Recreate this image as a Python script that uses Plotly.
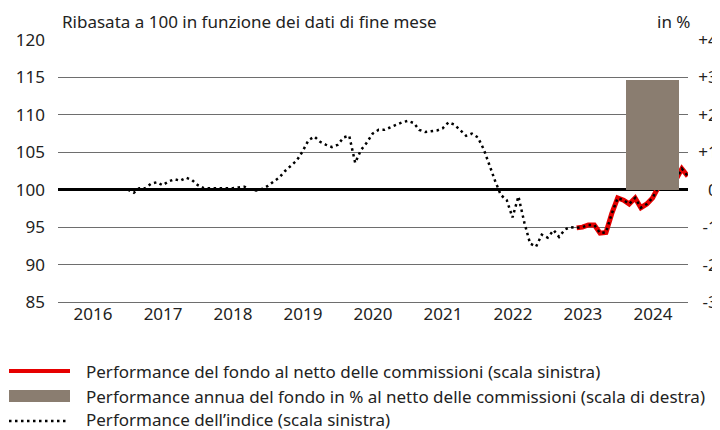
import pandas as pd
import plotly.graph_objects as go

# ---------------- data ----------------
index_dates = pd.date_range("2016-12-31", "2024-12-31", freq="ME").strftime("%Y-%m-%d").tolist()
index_values = [
    100.0,
    99.6, 100.2, 100.2, 100.8, 101.0, 100.6, 101.1, 101.4, 101.2, 101.6, 101.3, 100.6,   # 2017
    100.2, 100.2, 100.2, 100.1, 100.1, 100.2, 100.3, 100.4, 100.0, 99.9, 100.1, 100.5,   # 2018
    101.1, 101.6, 102.5, 103.2, 103.9, 105.1, 106.6, 107.1, 106.4, 106.0, 105.7, 106.0,  # 2019
    107.0, 107.2, 103.6, 105.3, 106.3, 107.5, 108.0, 108.0, 108.3, 108.7, 109.0, 109.2,  # 2020
    108.9, 108.0, 107.7, 107.8, 107.9, 108.2, 109.0, 108.7, 108.0, 107.2, 107.5, 107.0,  # 2021
    105.4, 103.3, 101.2, 99.3, 98.6, 96.3, 99.1, 95.6, 92.8, 92.4, 94.0, 93.6,           # 2022
    94.6, 93.7, 94.7, 95.0, 94.9, 95.0, 95.3, 95.3, 94.2, 94.3, 96.8, 98.9,              # 2023
    98.6, 98.1, 98.9, 97.6, 98.1, 98.9, 100.4, 101.1, 102.1, 101.4, 102.8, 101.8,        # 2024
]

fund_dates = pd.date_range("2023-05-31", "2024-12-31", freq="ME").strftime("%Y-%m-%d").tolist()
fund_values = [94.9, 95.0, 95.3, 95.3, 94.2, 94.3, 96.8, 98.9,
               98.6, 98.1, 98.9, 97.6, 98.1, 98.9, 100.4, 101.1, 102.1, 101.4, 102.8, 101.8]

annual_years = ["2024-01-01"]
annual_perf = [2.93]

left_ticks = [85, 90, 95, 100, 105, 110, 115, 120]
right_ticks = [-3, -2, -1, 0, 1, 2, 3, 4]
right_labels = ["-3", "-2", "-1", "0", "+1", "+2", "+3", "+4"]

title_text = "Ribasata a 100 in funzione dei dati di fine mese"
unit_text = "in %"
legend_texts = [
    "Performance del fondo al netto delle commissioni (scala sinistra)",
    "Performance annua del fondo in % al netto delle commissioni (scala di destra)",
    "Performance dell\u2019indice (scala sinistra)",
]

RED = "#e60000"
BROWN = "#8a7d70"
TXT = "#222222"
GRID = "#6e6e6e"
FS = 17

# ---------------- geometry (screen pixels; page body has an 8px offset) ----------------
OFF = 8
W, H = 720 - OFF, 430 - OFF
PL, PR, PT, PB = 58, 688, 40, 302          # plot box in screen pixels
ML, MT = PL - OFF, PT - OFF
MB = H - (PB - OFF)
MR = 0
PW = W - ML - MR
PH = H - MT - MB


def px(x):
    return (x - PL) / PW


def py(y):
    return (PB - y) / PH


fig = go.Figure()

fig.add_trace(go.Bar(
    x=annual_years, y=annual_perf, yaxis="y2",
    xperiod="M12", xperiod0="2016-01-01", xperiodalignment="middle",
    width=[276 * 86400000], marker=dict(color=BROWN, line=dict(width=0)),
    name=legend_texts[1], hoverinfo="skip",
))

fig.add_trace(go.Scatter(
    x=fund_dates, y=fund_values, mode="lines",
    line=dict(color=RED, width=5), name=legend_texts[0],
))

fig.add_trace(go.Scatter(
    x=index_dates, y=index_values, mode="lines",
    line=dict(color="black", width=2.5, dash="2.5px,3.5px"), name=legend_texts[2],
))

# legend (custom)
fig.add_shape(type="line", xref="paper", yref="paper", x0=px(9), x1=px(70), y0=py(371), y1=py(371),
              line=dict(color=RED, width=4))
fig.add_shape(type="rect", xref="paper", yref="paper", x0=px(9), x1=px(70), y0=py(390), y1=py(402),
              line=dict(width=0), fillcolor=BROWN)
fig.add_shape(type="line", xref="paper", yref="paper", x0=px(9), x1=px(68), y0=py(421), y1=py(421),
              line=dict(color="black", width=2.5, dash="2.5px,3.5px"))
for t, yy in zip(legend_texts, [371, 396, 419]):
    fig.add_annotation(text=t, xref="paper", yref="paper", x=px(84), y=py(yy),
                       xanchor="left", yanchor="middle", showarrow=False,
                       font=dict(size=FS, color=TXT))

fig.add_annotation(text=title_text, xref="paper", yref="paper", x=px(60), y=py(21),
                   xanchor="left", yanchor="middle", showarrow=False, font=dict(size=FS, color=TXT))
fig.add_annotation(text=unit_text, xref="paper", yref="paper", x=px(692), y=py(21),
                   xanchor="right", yanchor="middle", showarrow=False, font=dict(size=FS, color=TXT))

fig.update_layout(
    width=W, height=H,
    margin=dict(l=ML, r=MR, t=MT, b=MB, autoexpand=False),
    paper_bgcolor="white", plot_bgcolor="white",
    font=dict(family="Noto Sans", size=FS, color=TXT),
    showlegend=False,
    bargap=0,
    xaxis=dict(
        type="date", domain=[0, (PR - PL) / PW], range=["2016-01-01", "2025-01-01"],
        dtick="M12", tick0="2016-01-01", ticklabelmode="period", tickformat="%Y",
        showgrid=False, zeroline=False, showline=True, linecolor=GRID, linewidth=1,
        ticks="", tickfont=dict(size=FS, color=TXT), ticklabelstandoff=-3, automargin=False,
    ),
    yaxis=dict(
        range=[85, 120], tickvals=left_ticks, showgrid=True, gridcolor=GRID, gridwidth=1,
        zeroline=False, showline=False, ticks="", tickfont=dict(size=FS, color=TXT),
        ticklabelstandoff=12, automargin=False,
    ),
    yaxis2=dict(
        overlaying="y", anchor="free", position=(717 - PL) / PW + 0.004, side="left",
        range=[-3, 4], tickvals=right_ticks, ticktext=right_labels,
        showgrid=False, zeroline=True, zerolinecolor="black", zerolinewidth=3, showline=False,
        ticks="", tickfont=dict(size=FS, color=TXT), ticklabelstandoff=2, automargin=False,
    ),
)

fig.write_html("out.html")
